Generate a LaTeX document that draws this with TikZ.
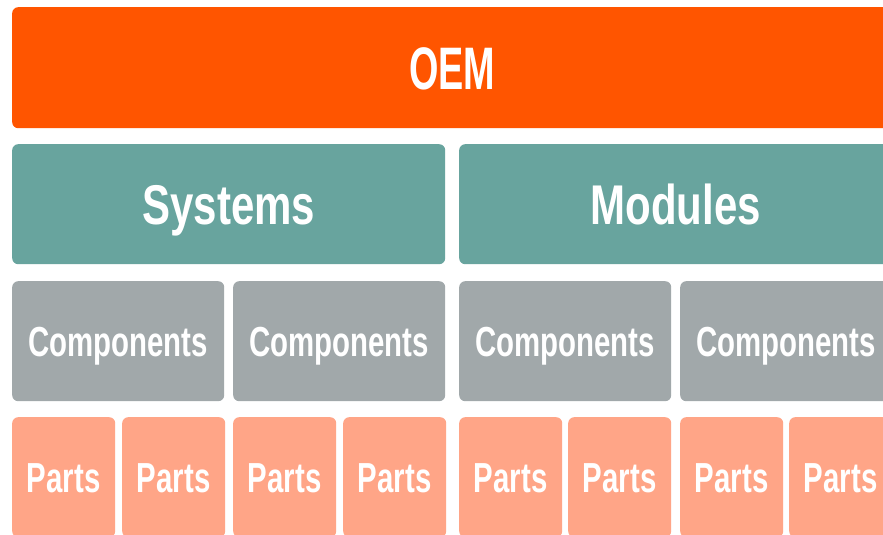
\documentclass[tikz,border=0pt]{standalone}
\usepackage{fontspec}
\newfontfamily\fO[FakeStretch=0.63]{Liberation Sans}
\newfontfamily\fS[FakeStretch=0.75]{Liberation Sans}
\newfontfamily\fC[FakeStretch=0.70]{Liberation Sans}
\definecolor{oemc}{RGB}{255,85,0}
\definecolor{sysc}{RGB}{104,164,158}
\definecolor{compc}{RGB}{161,168,170}
\definecolor{partc}{RGB}{255,165,135}
\tikzset{
  blk/.style={rectangle, rounded corners=6pt, draw=none, anchor=north west,
    text=white, inner sep=0pt, text depth=0pt, align=center},
  oembox/.style={blk, fill=oemc, minimum width=880pt, minimum height=121pt,
    font=\fO\bfseries\fontsize{60}{60}\selectfont, text height=43pt},
  sysbox/.style={blk, fill=sysc, minimum width=433pt, minimum height=120pt,
    font=\fS\bfseries\fontsize{56}{56}\selectfont, text height=40pt},
  compbox/.style={blk, fill=compc, minimum width=212pt, minimum height=120pt,
    font=\fC\bfseries\fontsize{42}{42}\selectfont, text height=30pt},
  partbox/.style={blk, fill=partc, minimum width=103pt, minimum height=120pt,
    font=\fC\bfseries\fontsize{42}{42}\selectfont, text height=30pt},
}
\begin{document}
\begin{tikzpicture}[x=1pt,y=-1pt]
\useasboundingbox (0,0) rectangle (883,535);
\clip (0,0) rectangle (883,535);
\fill[white] (0,0) rectangle (883,535);
\node[oembox] (oem) at (12,7) {OEM};
\node[sysbox] (sys) at (12,144) {Systems};
\node[sysbox, minimum width=433pt] (mod) at (459,144) {Modules};
\node[compbox] (c1) at (12,281) {Components};
\node[compbox] (c2) at (233,281) {Components};
\node[compbox] (c3) at (459,281) {Components};
\node[compbox] (c4) at (680,281) {Components};
\node[partbox] (p1) at (12,417) {Parts};
\node[partbox] (p2) at (122,417) {Parts};
\node[partbox] (p3) at (233,417) {Parts};
\node[partbox] (p4) at (343,417) {Parts};
\node[partbox] (p5) at (459,417) {Parts};
\node[partbox] (p6) at (568,417) {Parts};
\node[partbox] (p7) at (680,417) {Parts};
\node[partbox] (p8) at (789,417) {Parts};
\end{tikzpicture}
\end{document}
